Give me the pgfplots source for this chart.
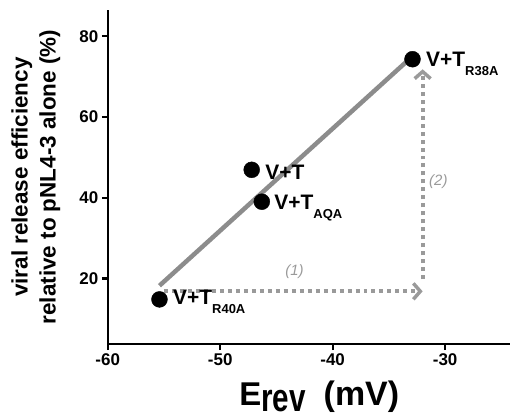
\documentclass[border=0pt]{standalone}
\usepackage{fontspec}
\setmainfont{Liberation Sans}
\usepackage{graphicx}
\usepackage{pgfplots}
\pgfplotsset{compat=1.18}
\usetikzlibrary{arrows.meta}
\definecolor{fitgray}{HTML}{8C8C8C}
\definecolor{arrgray}{HTML}{9A9A9A}

\newcommand{\lab}[1]{V+T\raisebox{-9pt}{\fontsize{13}{15}\selectfont #1}}

\begin{document}
\begin{tikzpicture}
\begin{axis}[
  scale only axis, width=403pt, height=335pt,
  xmin=-60, xmax=-24.25, ymin=3.7, ymax=86.5,
  axis lines*=left, axis line style={line width=2.4pt},
  xtick={-60,-50,-40,-30}, ytick={20,40,60,80},
  tick style={line width=2.2pt, black}, tick align=outside, major tick length=6pt,
  tick label style={font=\fontsize{17}{19}\selectfont\bfseries},
  /pgf/number format/assume math mode=true,
  clip=false,
]
% linear fit
\addplot[fitgray, line width=4.5pt] coordinates {(-55.4,18.2) (-32.8,75.3)};
% dotted arrows
\addplot[arrgray, line width=4pt, dash pattern=on 4pt off 4pt, -{Straight Barb[length=7pt,width=16pt,line width=3.5pt]}] coordinates {(-55.0,16.8) (-32.0,16.8)};
\addplot[arrgray, line width=4pt, dash pattern=on 4pt off 4pt, -{Straight Barb[length=7pt,width=16pt,line width=3.5pt]}] coordinates {(-32.0,19.8) (-32.0,71.8)};
% data points
\addplot[only marks, mark=*, mark size=8pt, black] coordinates {(-55.4,14.8) (-47.2,46.9) (-46.3,39.0) (-32.9,74.3)};
\node[anchor=base west, font=\fontsize{21}{23}\selectfont\bfseries, inner sep=0pt] at (axis cs:-54.2,13.5) {\lab{R40A}};
\node[anchor=base west, font=\fontsize{21}{23}\selectfont\bfseries, inner sep=0pt] at (axis cs:-46.0,44.6) {V+T};
\node[anchor=base west, font=\fontsize{21}{23}\selectfont\bfseries, inner sep=0pt] at (axis cs:-45.2,37.0) {\lab{AQA}};
\node[anchor=base west, font=\fontsize{21}{23}\selectfont\bfseries, inner sep=0pt] at (axis cs:-31.7,72.6) {\lab{R38A}};
\node[font=\fontsize{15}{17}\selectfont\itshape, text=arrgray] at (axis cs:-43.4,21.7) {(1)};
\node[font=\fontsize{15}{17}\selectfont\itshape, text=arrgray] at (axis cs:-30.6,43.9) {(2)};
% axis titles
\node[rotate=90, align=center, font=\fontsize{22.5}{28}\selectfont\bfseries, inner sep=0pt]
  at ([xshift=-72pt]rel axis cs:0,0.5) {viral release efficiency\\relative to pNL4-3 alone (\%)};
\node[anchor=base, font=\fontsize{33}{35}\selectfont\bfseries, inner sep=0pt]
  at ([yshift=-61pt]rel axis cs:0.526,0) {E\raisebox{-6pt}{\scalebox{0.9}[1.2]{rev}}\hspace{18pt}{\fontsize{34}{36}\selectfont(mV)}};
% page extent
\path (rel axis cs:0,0) ++(-108pt,-75pt) (rel axis cs:1,1) ++(0pt,10pt);
\end{axis}
\end{tikzpicture}
\end{document}
